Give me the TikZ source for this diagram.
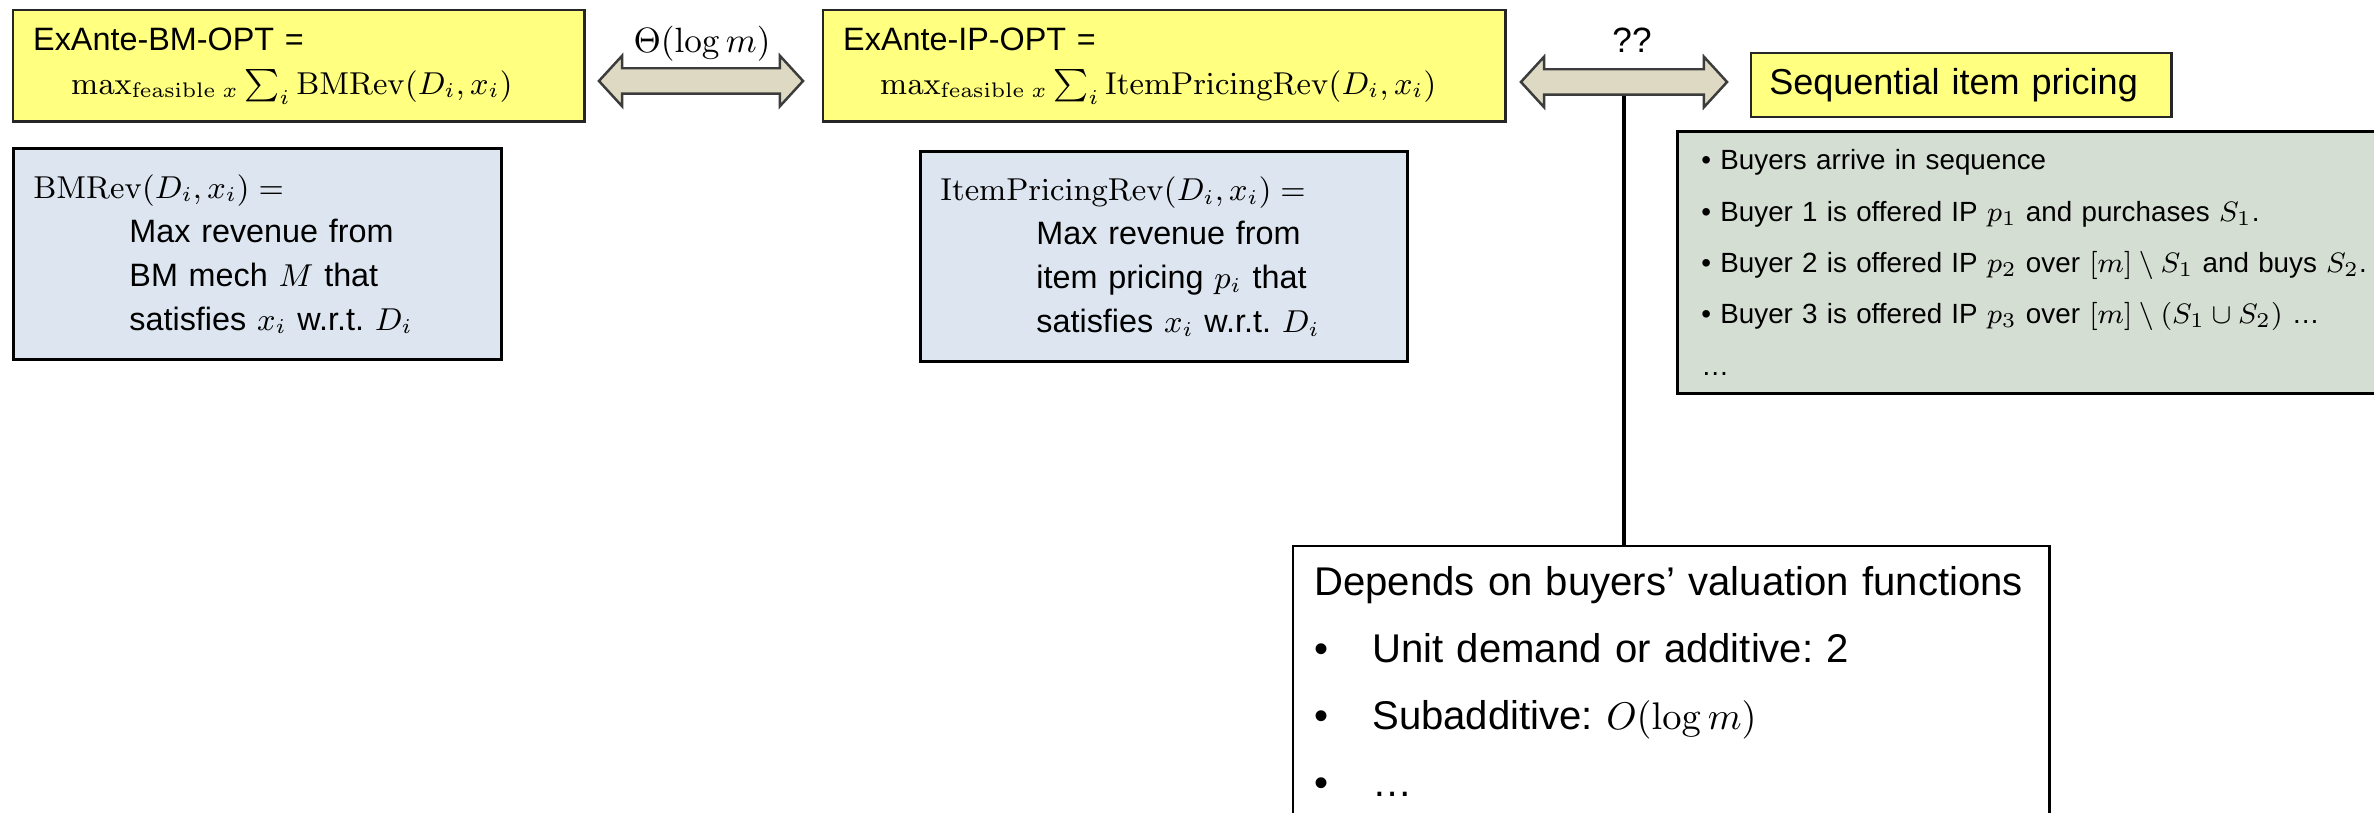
\documentclass[tikz,border=0pt]{standalone}
\usepackage[no-math]{fontspec}
\setmainfont{Liberation Sans}
\usepackage{amsmath}
\usepackage{amssymb}
\usepackage{tikz}
\usetikzlibrary{positioning,shapes.arrows}

\definecolor{optyellow}{RGB}{255,255,128}
\definecolor{revblue}{RGB}{221,230,240}
\definecolor{seqgreen}{RGB}{213,222,211}
\definecolor{gaptan}{RGB}{221,217,195}
\definecolor{edgegray}{RGB}{60,60,60}
\frenchspacing

\begin{document}
\begin{tikzpicture}[x=0.01cm, y=-0.01cm,
    optbox/.style={draw=black!85, line width=0.7pt, fill=optyellow, anchor=north west,
                   align=left, inner xsep=0.2cm, inner ysep=0pt,
                   font=\fontsize{9.2}{12.5}\selectfont},
    revbox/.style={draw, line width=0.8pt, fill=revblue, anchor=north west,
                   align=left, inner xsep=0.2cm, inner ysep=0pt,
                   font=\fontsize{9.2}{12.5}\selectfont},
    gap/.style={double arrow, draw=edgegray, line width=0.7pt, fill=gaptan,
                inner ysep=0.115cm, double arrow head extend=0.125cm,
                double arrow tip angle=95, minimum width=0.48cm},
    lbl/.style={font=\fontsize{10}{12}\selectfont, anchor=base},
]
\path[use as bounding box] (0,0) rectangle (2374,813);
\clip (0,0) rectangle (2374,813);

% top row: the two ex-ante optima
\node[optbox, minimum width=5.71cm, minimum height=1.11cm, text width=5.31cm] (bmopt) at (12,9)
    {ExAnte-BM-OPT =\\
     \hspace*{10.8pt}$\max_{\mathrm{feasible}\;x}\sum_i \mathrm{BMRev}(D_i,x_i)$};
\node[optbox, minimum width=6.82cm, minimum height=1.11cm, text width=6.42cm] (ipopt) at (822,9)
    {ExAnte-IP-OPT =\\
     \hspace*{10.5pt}$\max_{\mathrm{feasible}\;x}\sum_i \mathrm{ItemPricingRev}(D_i,x_i)$};
\node[optbox, minimum width=4.2cm, minimum height=0.64cm, text width=3.84cm, inner xsep=0.18cm,
      font=\fontsize{10.25}{12}\selectfont] (seqip) at (1750,52) {Sequential item pricing};

% gaps between them
\node[gap, minimum height=2.04cm] (bmgap) at (701,81) {};
\node[lbl] (thetalbl) at (702,53) {$\Theta(\log m)$};
\node[gap, minimum height=2.06cm] (ipgap) at (1624,82) {};
\node[lbl] (qlbl) at (1632,53) {??};

% definitions
\node[revbox, minimum width=4.88cm, minimum height=2.11cm, text width=4.48cm] (bmrev) at (12,147)
    {$\mathrm{BMRev}(D_i,x_i) =$\\
     \hspace*{27.3pt}Max revenue from\\
     \hspace*{27.3pt}BM mech $M$ that\\
     \hspace*{27.3pt}satisfies $x_i$ w.r.t.\ $D_i$};
\node[revbox, minimum width=4.87cm, minimum height=2.10cm, text width=4.47cm] (iprev) at (919,150)
    {$\mathrm{ItemPricingRev}(D_i,x_i) =$\\
     \hspace*{27.3pt}Max revenue from\\
     \hspace*{27.3pt}item pricing $p_i$ that\\
     \hspace*{27.3pt}satisfies $x_i$ w.r.t.\ $D_i$};

\node[revbox, fill=seqgreen, minimum width=7.3cm, minimum height=2.62cm, text width=6.82cm,
      inner xsep=0.24cm, font=\fontsize{7.9}{14.6}\selectfont] (seq) at (1676,130)
    {\textbullet\ Buyers arrive in sequence\\
     \textbullet\ Buyer 1 is offered IP $p_1$ and purchases $S_1$.\\
     \textbullet\ Buyer 2 is offered IP $p_2$ over $[m]\setminus S_1$ and buys $S_2$.\\
     \textbullet\ Buyer 3 is offered IP $p_3$ over $[m]\setminus(S_1\cup S_2)$ \ldots\\
     \ldots};

\node[draw, line width=0.7pt, fill=white, anchor=north west, align=left, minimum width=7.56cm,
      text width=7.14cm, inner xsep=0.21cm, inner ysep=5.8pt,
      font=\fontsize{11.4}{19}\selectfont] (deps) at (1292,545)
    {Depends on buyers' valuation functions\\
     \makebox[16.5pt][l]{\textbullet}Unit demand or additive: 2\\
     \makebox[16.5pt][l]{\textbullet}Subadditive: $O(\log m)$\\
     \makebox[16.5pt][l]{\textbullet}\ldots\rule[-14pt]{0pt}{14pt}};
\draw[line width=1pt] (ipgap.south) -- (ipgap.south |- deps.north);
\end{tikzpicture}
\end{document}
